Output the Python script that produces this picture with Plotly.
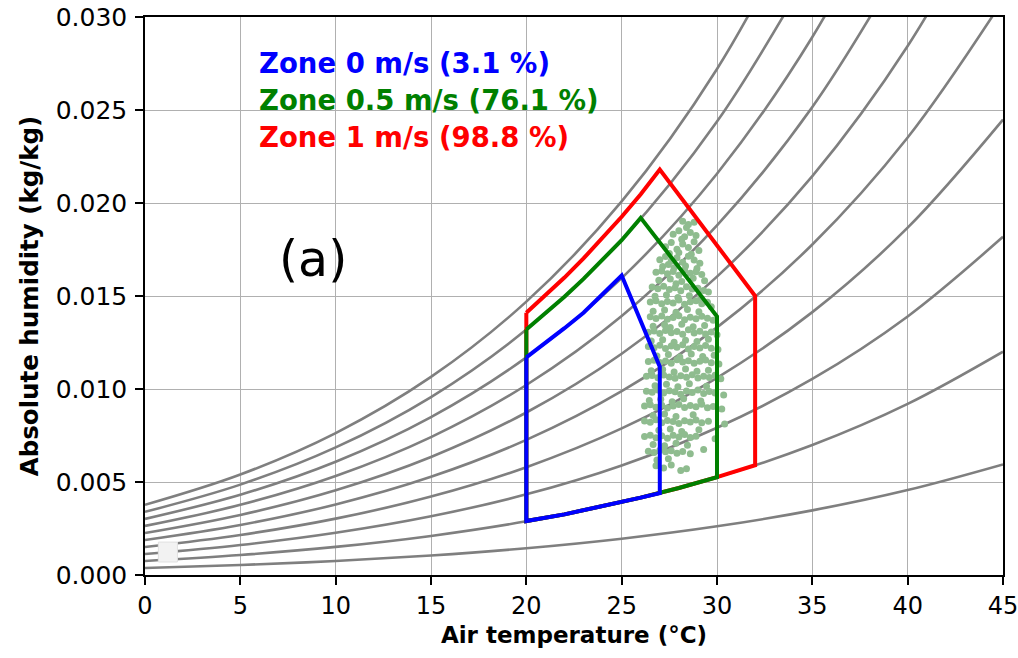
import plotly.graph_objects as go

# ---------------- data ----------------
curve_temps = [0, 5, 10, 15, 20, 25, 30, 35, 40, 45]
# constant relative-humidity lines (kg/kg), 10 % ... 100 %
rh_levels = [10, 20, 30, 40, 50, 60, 70, 80, 90, 100]
rh_010 = [0.000375, 0.000536, 0.000755, 0.001049, 0.001439, 0.001952, 0.002618, 0.003474, 0.004566, 0.005945]
rh_020 = [0.000751, 0.001073, 0.001511, 0.002101, 0.002885, 0.003916, 0.005257, 0.006987, 0.009199, 0.012006]
rh_030 = [0.001128, 0.001611, 0.002270, 0.003157, 0.004337, 0.005892, 0.007919, 0.010540, 0.013902, 0.018184]
rh_040 = [0.001504, 0.002150, 0.003030, 0.004216, 0.005797, 0.007881, 0.010604, 0.014133, 0.018675, 0.024484]
rh_050 = [0.001882, 0.002690, 0.003792, 0.005279, 0.007263, 0.009882, 0.013312, 0.017768, 0.023520, 0.030909]
rh_060 = [0.002259, 0.003230, 0.004556, 0.006346, 0.008736, 0.011896, 0.016043, 0.021444, 0.028439, 0.037463]
rh_070 = [0.002637, 0.003772, 0.005322, 0.007416, 0.010215, 0.013923, 0.018798, 0.025162, 0.033434]
rh_080 = [0.003016, 0.004315, 0.006090, 0.008490, 0.011702, 0.015964, 0.021576, 0.028924, 0.038506]
rh_090 = [0.003395, 0.004858, 0.006859, 0.009568, 0.013196, 0.018017, 0.024379, 0.032730]
rh_100 = [0.003775, 0.005403, 0.007631, 0.010649, 0.014697, 0.020084, 0.027206, 0.036580]
rh_curves = [rh_010, rh_020, rh_030, rh_040, rh_050, rh_060, rh_070, rh_080, rh_090, rh_100]

# comfort zones (temperature degC, absolute humidity kg/kg)
zone0_temp = [20, 20, 22, 24, 26, 27, 27, 25, 24, 23, 22, 21, 20]
zone0_hum = [0.0117, 0.0029, 0.00326, 0.00369, 0.00416, 0.0044, 0.0112, 0.0161, 0.0151, 0.0141, 0.01327, 0.01246, 0.0117]
zone05_temp = [20, 20, 22, 24, 26, 28, 30, 30, 26, 25, 24, 23, 22, 21, 20]
zone05_hum = [0.0132, 0.0029, 0.00326, 0.00369, 0.00416, 0.00468, 0.00526, 0.0139, 0.0192, 0.0180, 0.01694, 0.01592, 0.01496, 0.01406, 0.0132]
zone1_temp = [20, 20, 22, 24, 26, 28, 30, 32, 32, 27, 26, 25, 24, 23, 22, 21, 20]
zone1_hum = [0.0141, 0.0029, 0.00326, 0.00369, 0.00416, 0.00468, 0.00526, 0.0059, 0.0150, 0.0218, 0.02047, 0.01926, 0.0181, 0.01702, 0.01599, 0.01501, 0.0141]

zone_labels = ["Zone 0 m/s (3.1 %)", "Zone 0.5 m/s (76.1 %)", "Zone 1 m/s (98.8 %)"]

# observed indoor conditions, read band by band from top to bottom
obs_temp = (
    [28.2, 28.5, 28.8, 28.4]
    + [27.7, 28.0, 28.3, 28.6, 28.9, 28.15]
    + [27.3, 27.6, 27.9, 28.2, 28.5, 28.8, 29.05, 27.5, 28.0, 28.65]
    + [27.0, 27.3, 27.6, 27.9, 28.2, 28.5, 28.8, 29.1, 27.15, 27.75, 28.35, 28.95, 27.45]
    + [26.8, 27.1, 27.4, 27.7, 28.0, 28.3, 28.6, 28.9, 29.2, 26.95, 27.55, 28.15, 28.75, 29.35, 27.85]
    + [26.6, 26.9, 27.2, 27.5, 27.8, 28.1, 28.4, 28.7, 29.0, 29.3, 29.55, 26.75, 27.35, 27.95, 28.55, 29.15]
    + [26.5, 26.8, 27.1, 27.4, 27.7, 28.0, 28.3, 28.6, 28.9, 29.2, 29.5, 29.7, 26.65, 27.25, 27.85, 28.45, 29.05]
    + [26.5, 26.8, 27.1, 27.4, 27.7, 28.0, 28.3, 28.6, 28.9, 29.2, 29.5, 29.8, 26.65, 27.25, 27.55, 28.15, 28.75, 29.35]
    + [26.4, 26.7, 27.0, 27.3, 27.6, 27.9, 28.2, 28.5, 28.8, 29.1, 29.4, 29.7, 30.0, 26.55, 27.15, 27.75, 28.35, 28.95, 29.55]
    + [26.4, 26.7, 27.0, 27.3, 27.6, 27.9, 28.2, 28.5, 28.8, 29.1, 29.4, 29.7, 30.05, 26.85, 27.45, 28.05, 28.65, 29.25, 29.85]
    + [26.4, 26.7, 27.0, 27.3, 27.6, 27.9, 28.2, 28.5, 28.8, 29.1, 29.4, 29.7, 30.1, 26.55, 27.15, 27.75, 28.35, 28.95, 29.55]
    + [26.3, 26.6, 26.9, 27.2, 27.5, 27.8, 28.1, 28.4, 28.7, 29.0, 29.3, 29.6, 29.9, 30.2, 26.75, 27.35, 27.95, 28.55, 29.45]
    + [26.3, 26.6, 26.9, 27.2, 27.5, 27.8, 28.1, 28.4, 28.7, 29.0, 29.3, 29.6, 29.9, 30.35, 26.45, 27.05, 27.65, 28.25, 29.15]
    + [26.2, 26.5, 26.8, 27.1, 27.4, 27.7, 28.0, 28.3, 28.6, 28.9, 29.2, 29.5, 29.8, 30.25, 26.65, 27.25, 27.85, 28.75]
    + [26.2, 26.5, 26.8, 27.1, 27.4, 27.7, 28.0, 28.3, 28.6, 28.9, 29.2, 29.55, 30.4, 26.95, 27.55, 28.15, 29.05]
    + [26.2, 26.5, 26.8, 27.1, 27.4, 27.7, 28.0, 28.3, 28.6, 28.9, 29.9, 26.65, 27.25, 27.85, 28.45]
    + [26.4, 26.7, 27.0, 27.3, 27.6, 27.9, 28.2, 28.6, 29.3, 26.85, 27.45]
    + [26.8, 27.2, 27.6, 28.1, 28.4]
)
obs_hum = (
    [0.01902, 0.01885, 0.01896, 0.01868]
    + [0.01832, 0.01851, 0.01818, 0.01842, 0.01825, 0.01805]
    + [0.01765, 0.01788, 0.01752, 0.01779, 0.01761, 0.01792, 0.01744, 0.01728, 0.01733, 0.01725]
    + [0.01695, 0.01712, 0.01688, 0.01705, 0.01682, 0.01714, 0.01693, 0.01676, 0.01658, 0.01652, 0.01661, 0.01648, 0.01670]
    + [0.01628, 0.01635, 0.01619, 0.01632, 0.01611, 0.01638, 0.01622, 0.01630, 0.01615, 0.01585, 0.01592, 0.01578, 0.01596, 0.01582, 0.01566]
    + [0.01548, 0.01539, 0.01552, 0.01535, 0.01545, 0.01528, 0.01550, 0.01537, 0.01542, 0.01530, 0.01521, 0.01498, 0.01505, 0.01492, 0.01501, 0.01488]
    + [0.01468, 0.01475, 0.01459, 0.01471, 0.01462, 0.01478, 0.01455, 0.01469, 0.01474, 0.01458, 0.01466, 0.01442, 0.01418, 0.01425, 0.01412, 0.01428, 0.01415]
    + [0.01388, 0.01379, 0.01392, 0.01375, 0.01385, 0.01394, 0.01372, 0.01386, 0.01378, 0.01391, 0.01381, 0.01370, 0.01338, 0.01345, 0.01330, 0.01348, 0.01335, 0.01342]
    + [0.01305, 0.01312, 0.01298, 0.01315, 0.01302, 0.01309, 0.01295, 0.01318, 0.01301, 0.01311, 0.01296, 0.01306, 0.01292, 0.01258, 0.01265, 0.01252, 0.01262, 0.01255, 0.01268]
    + [0.01228, 0.01222, 0.01235, 0.01218, 0.01231, 0.01225, 0.01238, 0.01215, 0.01229, 0.01221, 0.01234, 0.01219, 0.01212, 0.01178, 0.01185, 0.01172, 0.01188, 0.01175, 0.01182]
    + [0.01148, 0.01155, 0.01142, 0.01151, 0.01138, 0.01157, 0.01145, 0.01152, 0.01139, 0.01149, 0.01156, 0.01141, 0.01135, 0.01098, 0.01105, 0.01092, 0.01108, 0.01095, 0.01101]
    + [0.01068, 0.01072, 0.01061, 0.01075, 0.01065, 0.01058, 0.01071, 0.01063, 0.01076, 0.01059, 0.01069, 0.01062, 0.01074, 0.01055, 0.01018, 0.01025, 0.01012, 0.01028, 0.01015]
    + [0.00988, 0.00982, 0.00995, 0.00978, 0.00991, 0.00985, 0.00972, 0.00989, 0.00981, 0.00994, 0.00976, 0.00987, 0.00979, 0.00968, 0.00938, 0.00945, 0.00932, 0.00948, 0.00935]
    + [0.00908, 0.00915, 0.00902, 0.00912, 0.00898, 0.00909, 0.00916, 0.00901, 0.00911, 0.00905, 0.00918, 0.00899, 0.00906, 0.00892, 0.00858, 0.00865, 0.00852, 0.00862]
    + [0.00828, 0.00821, 0.00835, 0.00818, 0.00831, 0.00825, 0.00815, 0.00829, 0.00822, 0.00834, 0.00819, 0.00826, 0.00812, 0.00778, 0.00785, 0.00772, 0.00781]
    + [0.00745, 0.00752, 0.00738, 0.00748, 0.00735, 0.00751, 0.00742, 0.00755, 0.00739, 0.00746, 0.00732, 0.00702, 0.00695, 0.00708, 0.00698]
    + [0.00665, 0.00658, 0.00671, 0.00662, 0.00668, 0.00655, 0.00664, 0.00652, 0.00675, 0.00618, 0.00625]
    + [0.00588, 0.00575, 0.00592, 0.00562, 0.00571]
)

x_ticks = [0, 5, 10, 15, 20, 25, 30, 35, 40, 45]
y_ticks = [0.000, 0.005, 0.010, 0.015, 0.020, 0.025, 0.030]

# ---------------- figure ----------------
fig = go.Figure()

for curve in rh_curves:
    fig.add_trace(go.Scatter(
        x=curve_temps[:len(curve)], y=curve, mode="lines", line_shape="spline",
        line=dict(color="#7f7f7f", width=2.6), hoverinfo="skip", showlegend=False))

fig.add_trace(go.Scatter(
    x=obs_temp, y=obs_hum, mode="markers",
    marker=dict(color="#8fbc8f", size=7, line=dict(width=0)),
    showlegend=False))

for tx, hy, col in [(zone1_temp, zone1_hum, "#ff0000"),
                    (zone05_temp, zone05_hum, "#008000"),
                    (zone0_temp, zone0_hum, "#0000ff")]:
    fig.add_trace(go.Scatter(x=tx, y=hy, mode="lines",
                             line=dict(color=col, width=4), showlegend=False))

label_colors = ["#0000ff", "#008000", "#ff0000"]
label_y = [0.02753, 0.02554, 0.02355]
for txt, col, yy in zip(zone_labels, label_colors, label_y):
    fig.add_annotation(x=5.9, y=yy, xref="x", yref="y", text="<b>" + txt + "</b>", showarrow=False,
                       xanchor="left", yanchor="middle",
                       font=dict(family="DejaVu Sans", size=27.5, color=col))

fig.add_annotation(x=8.8, y=0.01694, xref="x", yref="y", text="(a)", showarrow=False,
                   xanchor="center", yanchor="middle",
                   font=dict(family="DejaVu Sans", size=49, color="black"))

# faint empty legend box
fig.add_shape(type="rect", xref="x", yref="y", x0=0.7, x1=1.7, y0=0.0007, y1=0.00177,
              fillcolor="#f2f2f2", line=dict(color="#e0e0e0", width=1), layer="above")

fig.update_xaxes(range=[0, 45], tickvals=x_ticks, ticks="outside", ticklen=8, tickwidth=1.5,
                 tickcolor="black", showline=True, linecolor="black", linewidth=1.5, mirror=True,
                 showgrid=True, gridcolor="#b0b0b0", gridwidth=1, zeroline=False,
                 tickfont=dict(family="DejaVu Sans", size=24, color="black"),
                 automargin=False, ticklabeloverflow="allow",
                 title=dict(text="<b>Air temperature (°C)</b>",
                            font=dict(family="DejaVu Sans", size=23, color="black"), standoff=8))
fig.update_yaxes(range=[0, 0.030], tickvals=y_ticks, tickformat=".3f", ticks="outside", ticklen=8,
                 tickwidth=1.5, tickcolor="black", showline=True, linecolor="black", linewidth=1.5,
                 mirror=True, showgrid=True, gridcolor="#b0b0b0", gridwidth=1, zeroline=False,
                 tickfont=dict(family="DejaVu Sans", size=25, color="black"),
                 automargin=False, ticklabelstandoff=3, ticklabeloverflow="allow",
                 title=dict(text="<b>Absolute humidity (kg/kg)</b>",
                            font=dict(family="DejaVu Sans", size=24.5, color="black"), standoff=10))

fig.update_layout(width=1018, height=658, plot_bgcolor="white", paper_bgcolor="white",
                  margin=dict(l=145, r=15, t=17, b=83), showlegend=False)

# remove the default page margin so the figure fills the window exactly
fig.write_html("out.html", config={"displayModeBar": False},
               post_script="document.body.style.margin='0';document.body.style.overflow='hidden';")
